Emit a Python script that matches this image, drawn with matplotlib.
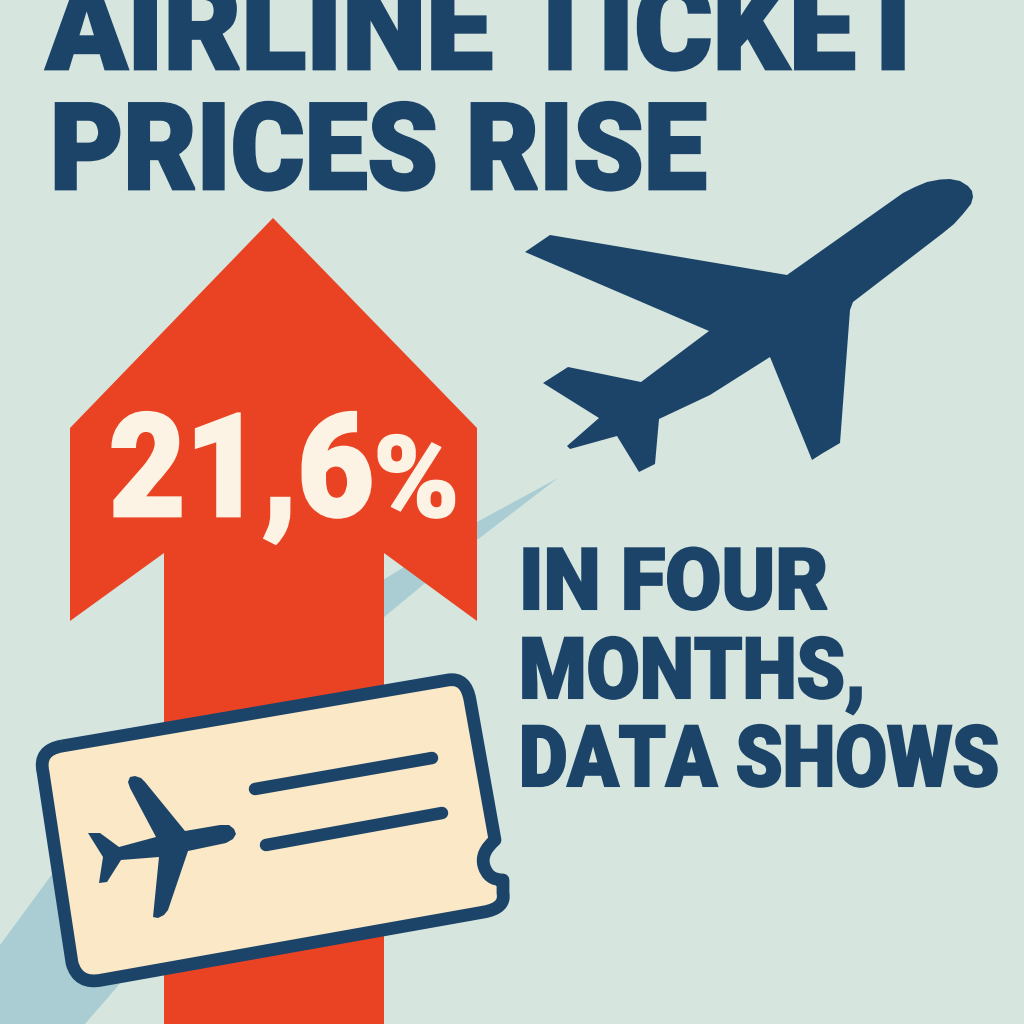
import matplotlib
matplotlib.use("Agg")
import matplotlib.pyplot as plt
from matplotlib.patches import PathPatch, Polygon
from matplotlib.path import Path
from matplotlib.transforms import Affine2D
import matplotlib.patheffects as pe

BG = "#D6E6DF"
NAVY = "#1C4469"
RED = "#EA4324"
CREAM = "#FAE8C6"
WHITE = "#FDF3E4"
TRAIL = "#A9CDD3"

title_lines = ["AIRLINE TICKET", "PRICES RISE"]
side_lines = ["IN FOUR", "MONTHS,", "DATA SHOWS"]
rise_value = "21,6"
rise_unit = "%"

# outlines, in image pixels
arrow_xy = [(273, 218), (477, 428), (477, 621), (384, 553), (384, 1024),
            (164, 1024), (164, 553), (70, 621), (70, 428)]
trail_xy = [(558, 478), (477, 522), (383, 580), (53, 873), (0, 945), (0, 1024),
            (85, 1024), (117, 987), (383, 618), (477, 540)]
plane_xy = [(525, 252), (550, 235), (787, 275), (903, 193), (915, 187), (927, 182), (940, 179.5),
            (950, 179), (960, 181), (968, 186), (972, 191), (973, 197), (971, 204), (963, 214),
            (954, 224), (943, 233), (853, 302), (850, 310),
            (840, 443), (823, 453), (812, 460), (770, 357), (710, 395), (659, 419),
            (655, 464), (639, 472), (617, 436), (570, 449), (567, 446), (599, 418),
            (543, 383), (568, 367), (641, 382), (709, 331)]
small_plane_xy = [(88, 833), (100, 833), (119, 847), (156, 837), (130, 788), (128, 782), (130, 777),
                  (135, 776), (141, 778), (145, 782), (185, 831), (220, 825), (229, 825), (234, 829),
                  (236, 834), (233, 839), (226, 843), (188, 851), (168, 910), (164, 915), (158, 918),
                  (153, 917), (159, 857), (121, 860), (107, 882), (99, 883), (103, 857)]


class TallBold(pe.AbstractPathEffect):
    # stretches the glyphs upward from the baseline and thickens them
    def __init__(self, y0, sy, lw):
        super().__init__()
        self.y0, self.sy, self.lw = y0, sy, lw

    def draw_path(self, renderer, gc, tpath, affine, rgbFace):
        gc0 = renderer.new_gc()
        gc0.copy_properties(gc)
        gc0.set_linewidth(self.lw)
        gc0.set_foreground(rgbFace)
        gc0.set_joinstyle("miter")
        tall = Affine2D().translate(0, -self.y0).scale(1, self.sy).translate(0, self.y0)
        renderer.draw_path(gc0, tpath, affine + tall, rgbFace)
        gc0.restore()


def ticket_path():
    v = [(62, 746), (448, 680), ("c", 466, 677), (470, 700),
         (495, 840), ("c", 480, 853), (484, 866), ("c", 488, 880), (503, 880),
         (503, 893), ("c", 506, 908), (484, 912),
         (102, 980), ("c", 78, 985), (72, 963),
         (43, 772), ("c", 38, 750), (62, 746)]
    verts, codes = [], []
    for i, p in enumerate(v):
        if p[0] == "c":
            verts.append((p[1], p[2]))
            codes.append(Path.CURVE3)
        else:
            verts.append(p)
            if i == 0:
                codes.append(Path.MOVETO)
            elif codes[-1] == Path.CURVE3 and (i < 2 or codes[-2] != Path.CURVE3):
                codes.append(Path.CURVE3)
            else:
                codes.append(Path.LINETO)
    return Path(verts, codes)


def label(x, y, s, size, color, sy, lw):
    t = ax.text(x, y, s, family="Roboto", weight="black", fontsize=size,
                color=color, va="baseline")
    t.set_path_effects([TallBold(1024 - y, sy, lw)])


fig = plt.figure(figsize=(10.24, 10.24), dpi=100, facecolor=BG)
ax = fig.add_axes([0, 0, 1, 1])
ax.set_xlim(0, 1024)
ax.set_ylim(1024, 0)
ax.axis("off")

ax.add_patch(Polygon(trail_xy, fc=TRAIL, ec="none"))
ax.add_patch(Polygon(arrow_xy, fc=RED, ec="none"))
ax.add_patch(Polygon(plane_xy, fc=NAVY, ec="none"))

ax.add_patch(PathPatch(ticket_path(), fc=CREAM, ec=NAVY, lw=9.2, joinstyle="round"))
ax.add_patch(Polygon(small_plane_xy, fc=NAVY, ec="none"))
ax.plot([255, 432], [789, 758], color=NAVY, lw=9, solid_capstyle="round")
ax.plot([266, 442], [845, 813], color=NAVY, lw=9, solid_capstyle="round")

label(46, 69, title_lines[0], 86, NAVY, 1.02, 2)
label(50, 189, title_lines[1], 81, NAVY, 1.07, 2)

label(109, 516, rise_value, 95, WHITE, 1.09, 2)
label(373, 517, rise_unit, 84, WHITE, 0.98, 1)

for line, y, size, sy in zip(side_lines, [609, 698, 786], [58.5, 55.5, 54], [1.05, 1.1, 1.13]):
    label(519, y, line, size, NAVY, sy, 1.5)

fig.savefig("out.png", dpi=100, facecolor=BG)
